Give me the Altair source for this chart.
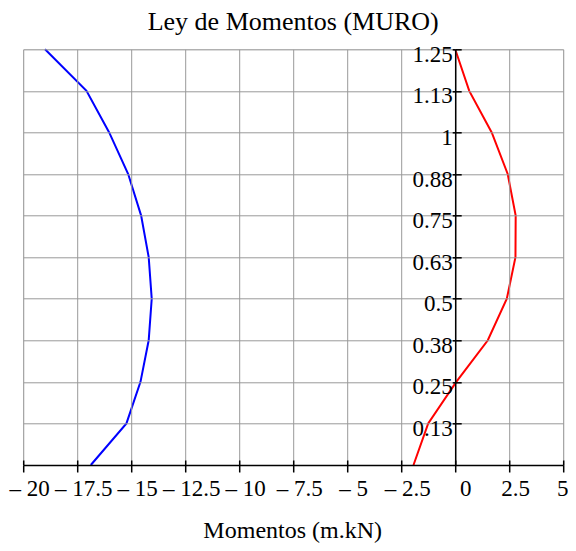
import altair as alt
import pandas as pd

# ---- data ----
y_levels = [0.0, 0.125, 0.25, 0.375, 0.5, 0.625, 0.75, 0.875, 1.0, 1.125, 1.25]
blue_vals = [-16.87, -15.22, -14.57, -14.19, -14.05, -14.19, -14.54, -15.14, -16.02, -17.07, -18.99]
red_vals = [-1.93, -1.25, 0.05, 1.51, 2.39, 2.79, 2.80, 2.43, 1.69, 0.65, 0.0]

x_ticks = [-20, -17.5, -15, -12.5, -10, -7.5, -5, -2.5, 0, 2.5, 5]
x_tick_labels = ["\u2013 20", "\u2013 17.5", "\u2013 15", "\u2013 12.5", "\u2013 10",
                 "\u2013 7.5", "\u2013 5", "\u2013 2.5", "0", "2.5", "5"]
y_ticks = [0.125, 0.25, 0.375, 0.5, 0.625, 0.75, 0.875, 1.0, 1.125, 1.25]
y_tick_labels = ["0.13", "0.25", "0.38", "0.5", "0.63", "0.75", "0.88", "1", "1.13", "1.25"]

title_text = "Ley de Momentos (MURO)"
x_title = "Momentos (m.kN)"

df = pd.DataFrame(
    {
        "y": y_levels * 2,
        "m": blue_vals + red_vals,
        "serie": ["blue"] * len(y_levels) + ["red"] * len(y_levels),
    }
)

FONT = "Liberation Serif"
W = 540
H = 415.7
XMIN, XMAX = -20, 5
x0_px = W * (0 - XMIN) / (XMAX - XMIN)


def label_expr(vals, labels):
    expr = "''"
    for v, l in reversed(list(zip(vals, labels))):
        expr = f"abs(datum.value - ({v})) < 1e-6 ? '{l}' : ({expr})"
    return expr


x_scale = alt.Scale(domain=[XMIN, XMAX], nice=False, zero=False)
y_scale = alt.Scale(domain=[0, 1.25], nice=False, zero=False)

main_x_axis = alt.Axis(
    orient="bottom",
    values=x_ticks,
    labelExpr=label_expr(x_ticks, x_tick_labels),
    grid=True,
    gridColor="#999999",
    gridWidth=1,
    domainColor="black",
    domainWidth=1.5,
    tickColor="black",
    tickWidth=1.5,
    tickSize=7,
    labelFont=FONT,
    labelFontSize=23,
    labelColor="black",
    labelPadding=5,
    labelOverlap=False,
    labelFlush=False,
    labelBound=False,
    labelOffset={
        "condition": [
            {"test": "datum.value == 0", "value": 10},
            {"test": "datum.value == 5", "value": -1},
        ],
        "value": 6,
    },
    title=x_title,
    titleFont=FONT,
    titleFontSize=24,
    titleFontWeight="normal",
    titleColor="black",
    titleBaseline="alphabetic",
    titleX=269,
    titleY=72,
    zindex=1,
)

main_y_axis = alt.Axis(
    orient="left",
    offset=-x0_px,
    values=y_ticks,
    labelExpr=label_expr(y_ticks, y_tick_labels),
    grid=True,
    gridColor="#999999",
    gridWidth=1,
    domainColor="black",
    domainWidth=1.5,
    tickColor="black",
    tickWidth=1.5,
    tickSize=3,
    labelFont=FONT,
    labelFontSize=23,
    labelColor="black",
    labelPadding=0,
    labelOffset=5,
    labelOverlap=False,
    labelFlush=False,
    labelBound=False,
    title=None,
    zindex=1,
)

# second set of ticks on the inner side of each axis line (ticks cross the axis)
inner_x_axis = alt.Axis(
    orient="bottom",
    offset=-5,
    values=x_ticks,
    labels=False,
    domain=False,
    grid=False,
    tickColor="black",
    tickWidth=1.5,
    tickSize=5,
    title=None,
    zindex=1,
)

inner_y_axis = alt.Axis(
    orient="left",
    offset=-(x0_px + 6),
    values=y_ticks,
    labels=False,
    domain=False,
    grid=False,
    tickColor="black",
    tickWidth=1.5,
    tickSize=6,
    title=None,
    zindex=1,
)

color_scale = alt.Scale(domain=["blue", "red"], range=["#0000ff", "#ff0000"])

base_blue = alt.Chart(df).transform_filter(alt.datum.serie == "blue").mark_line(
    strokeWidth=2
).encode(
    x=alt.X("m:Q", scale=x_scale, axis=main_x_axis),
    y=alt.Y("y:Q", scale=y_scale, axis=main_y_axis),
    order=alt.Order("y:Q"),
    color=alt.Color("serie:N", scale=color_scale, legend=None),
)

base_red = alt.Chart(df).transform_filter(alt.datum.serie == "red").mark_line(
    strokeWidth=2
).encode(
    x=alt.X("m:Q", scale=x_scale, axis=inner_x_axis),
    y=alt.Y("y:Q", scale=y_scale, axis=inner_y_axis),
    order=alt.Order("y:Q"),
    color=alt.Color("serie:N", scale=color_scale, legend=None),
)

chart = (
    alt.layer(base_blue, base_red)
    .resolve_axis(x="independent", y="independent")
    .properties(
        width=W,
        height=H,
        title=alt.TitleParams(
            title_text,
            font=FONT,
            fontSize=26,
            fontWeight="normal",
            color="black",
            frame="group",
            anchor="middle",
            baseline="alphabetic",
            offset=14,
            dy=27,
        ),
        autosize=alt.AutoSizeParams(type="none"),
        padding={"left": 15.2, "top": 41.3, "right": 4.8, "bottom": 78},
    )
    .configure_view(strokeWidth=0)
    .configure(background="white")
)

chart.save("out.html", embed_options={"renderer": "svg", "actions": False})
